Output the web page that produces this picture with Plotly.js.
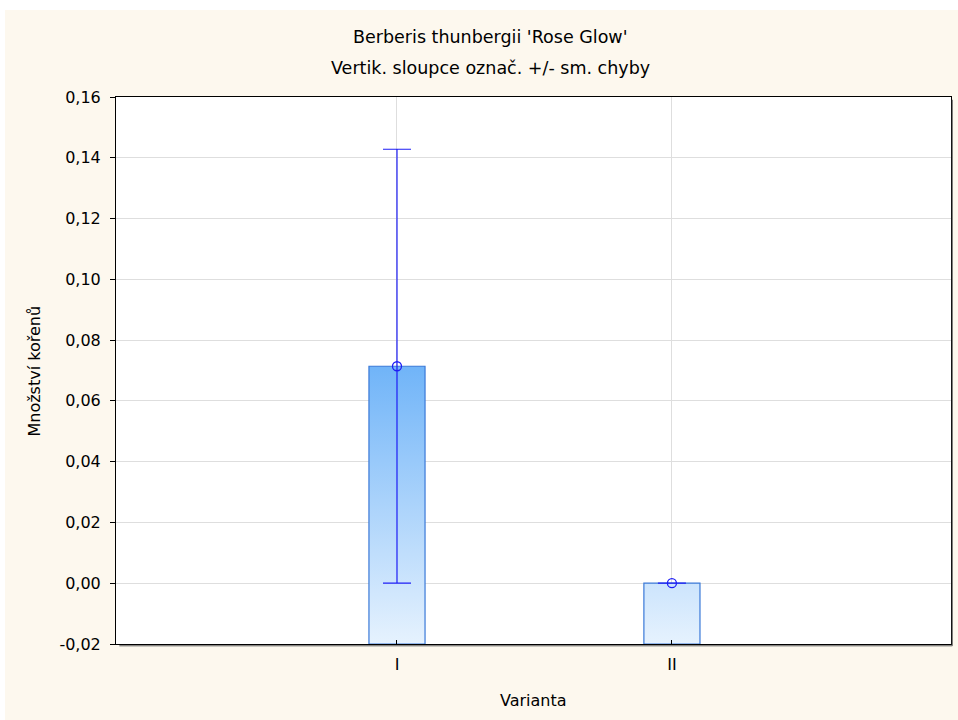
<!DOCTYPE html>
<html>
<head>
<meta charset="utf-8">
<script src="https://cdn.plot.ly/plotly-3.0.1.min.js"></script>
<style>html,body{margin:0;padding:0;background:#fff;}#chart{width:958px;height:720px;}</style>
</head>
<body>
<div id="chart"></div>
<script>
// ---- data ----
var categories = ['I', 'II'];
var means = [0.0714, 0.0];
var stdErrors = [0.0714, 0.0];
var yTicks = [-0.02, 0, 0.02, 0.04, 0.06, 0.08, 0.10, 0.12, 0.14, 0.16];
var yTickLabels = ['-0,02', '0,00', '0,02', '0,04', '0,06', '0,08', '0,10', '0,12', '0,14', '0,16'];
var titleLine1 = "Berberis thunbergii 'Rose Glow'";
var titleLine2 = "Vertik. sloupce označ. +/- sm. chyby";
var xTitle = 'Varianta';
var yTitle = 'Množství kořenů';

// ---- styles ----
var FONT = 'DejaVu Sans, Liberation Sans, Arial, sans-serif';
var CREAM = '#FDF8EE';
var BLUE = '#1E1EF5';
var yBase = -0.02;
var halfW = 0.102;
var maxMean = Math.max.apply(null, means);

var xIdx = categories.map(function (c, i) { return i; });

var traces = [];
categories.forEach(function (c, i) {
  traces.push({
    type: 'scatter',
    mode: 'lines',
    x: [i - halfW, i - halfW, i + halfW, i + halfW, i - halfW],
    y: [yBase, means[i], means[i], yBase, yBase],
    fill: 'toself',
    fillgradient: {
      type: 'vertical',
      colorscale: [[0, '#E6F2FE'], [1, '#70B4F8']],
      start: yBase,
      stop: maxMean
    },
    line: { color: '#3A79D8', width: 1.2 },
    hoverinfo: 'skip',
    showlegend: false
  });
});

traces.push({
  type: 'scatter',
  mode: 'markers',
  x: xIdx,
  y: means,
  marker: { symbol: 'circle-open', size: 9, color: BLUE, line: { width: 1.3, color: BLUE } },
  error_y: { type: 'data', array: stdErrors, visible: true, color: BLUE, thickness: 1.2, width: 14 },
  showlegend: false
});

var layout = {
  width: 958,
  height: 720,
  paper_bgcolor: CREAM,
  plot_bgcolor: '#FFFFFF',
  separators: ', ',
  margin: { l: 116, r: 7, t: 97, b: 76 },
  font: { family: FONT, size: 16, color: '#000' },
  showlegend: false,
  xaxis: {
    type: 'linear',
    range: [-1.022, 2.015],
    tickvals: xIdx,
    ticktext: categories,
    ticks: 'inside',
    ticklen: 4,
    tickcolor: '#000',
    ticklabelstandoff: 6,
    showgrid: true,
    gridcolor: '#DEDEDE',
    zeroline: false,
    showline: true,
    linecolor: '#000',
    linewidth: 1,
    mirror: true,
    tickfont: { family: FONT, size: 16 }
  },
  yaxis: {
    range: [-0.02, 0.16],
    tickvals: yTicks,
    ticktext: yTickLabels,
    ticks: 'outside',
    ticklen: 5,
    tickcolor: '#000',
    ticklabelstandoff: 6,
    showgrid: true,
    gridcolor: '#DEDEDE',
    zeroline: false,
    showline: true,
    linecolor: '#000',
    linewidth: 1,
    mirror: true,
    tickfont: { family: FONT, size: 16 }
  },
  annotations: [
    { text: titleLine1, xref: 'paper', yref: 'paper', x: 0.448, y: 1.1088, xanchor: 'center', yanchor: 'middle', showarrow: false, font: { family: FONT, size: 17.5 } },
    { text: titleLine2, xref: 'paper', yref: 'paper', x: 0.448, y: 1.053, xanchor: 'center', yanchor: 'middle', showarrow: false, font: { family: FONT, size: 17.5 } },
    { text: xTitle, xref: 'paper', yref: 'paper', x: 0.5, y: -0.1024, xanchor: 'center', yanchor: 'middle', showarrow: false, font: { family: FONT, size: 16 } },
    { text: yTitle, xref: 'paper', yref: 'paper', x: -0.0976, y: 0.499, xanchor: 'center', yanchor: 'middle', textangle: -90, showarrow: false, font: { family: FONT, size: 16 } }
  ],
  shapes: [
    { type: 'rect', xref: 'paper', yref: 'paper', x0: -0.2, x1: 1.05, y0: 1.159, y1: 1.25, fillcolor: '#FFFFFF', line: { width: 0 }, layer: 'below' },
    { type: 'rect', xref: 'paper', yref: 'paper', x0: -0.2, x1: -0.1329, y0: -0.2, y1: 1.25, fillcolor: '#FFFFFF', line: { width: 0 }, layer: 'below' },
    { type: 'line', xref: 'paper', yref: 'paper', x0: 1.0015, x1: 1.0015, y0: -0.0033, y1: 0.995, line: { color: '#555555', width: 1 } },
    { type: 'line', xref: 'paper', yref: 'paper', x0: 0.004, x1: 1.0015, y0: -0.0033, y1: -0.0033, line: { color: '#555555', width: 1 } }
  ]
};

Plotly.newPlot('chart', traces, layout, { displayModeBar: false, staticPlot: true });
</script>
</body>
</html>
